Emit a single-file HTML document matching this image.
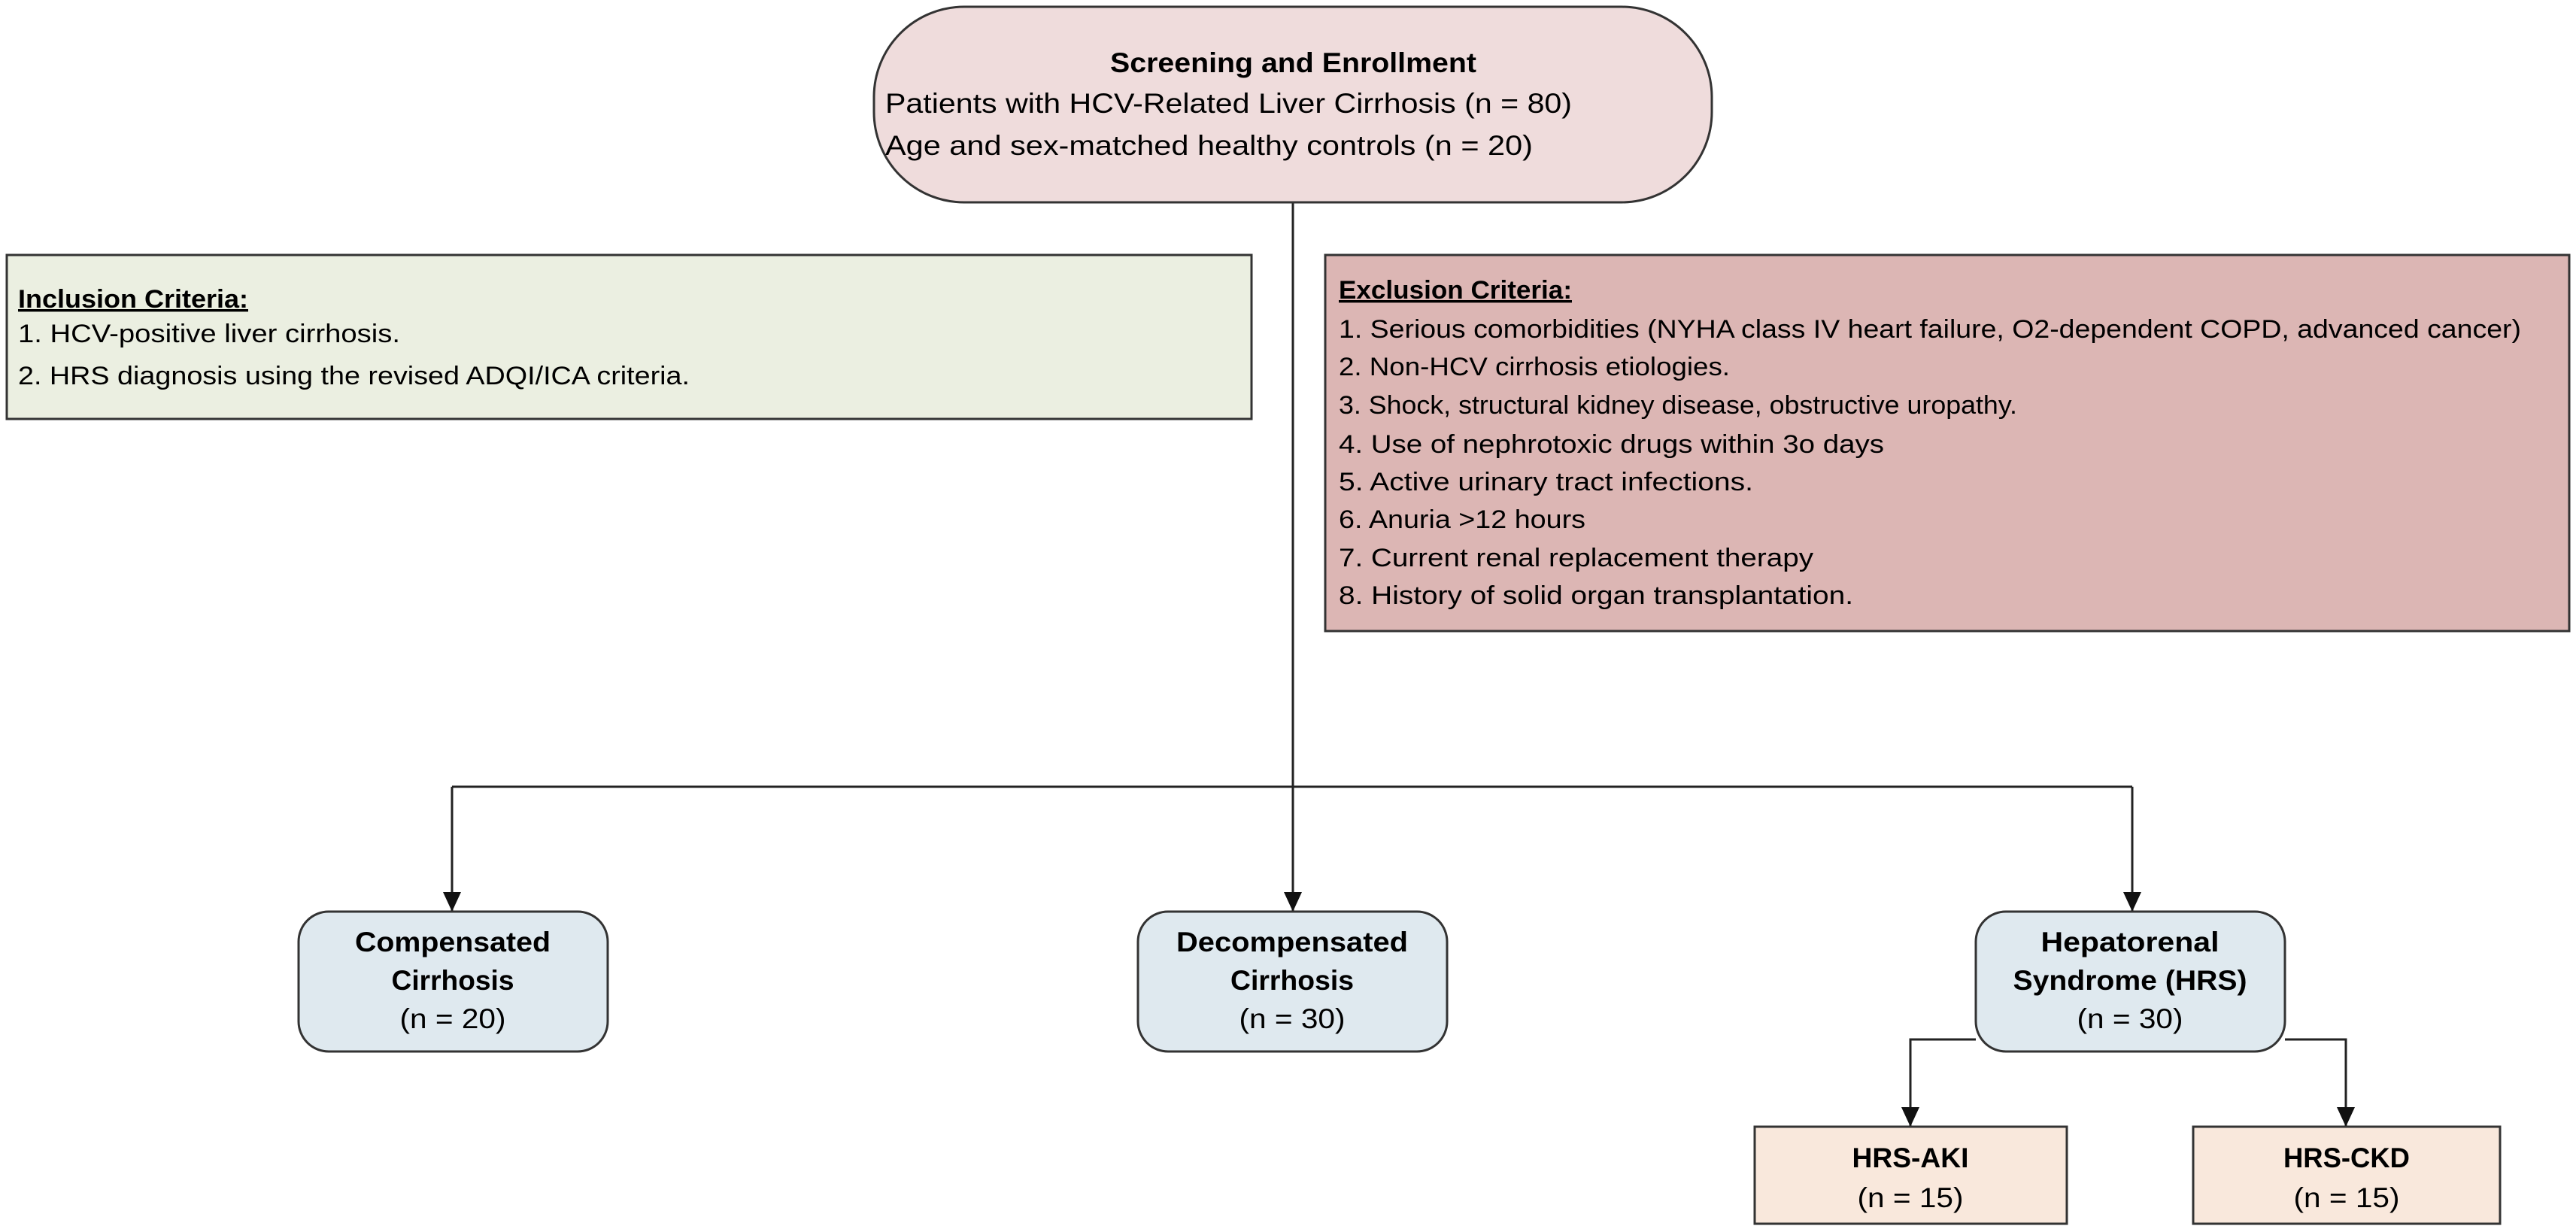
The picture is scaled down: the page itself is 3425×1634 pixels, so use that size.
<!DOCTYPE html>
<html><head><meta charset="utf-8"><style>
html,body{margin:0;padding:0;background:#fff;}
svg{display:block;font-family:"Liberation Sans",Arial,sans-serif;}
</style></head><body>
<svg width="3425" height="1634" viewBox="0 0 3425 1634" xmlns="http://www.w3.org/2000/svg">
<g stroke="#222" stroke-width="3" fill="none">
<path d="M1719,269 V1212"/>
<path d="M601,1046 H2835"/>
<path d="M601,1046 V1212"/>
<path d="M2835,1046 V1212"/>
<path d="M2627,1382 H2540 V1498"/>
<path d="M3038,1382 H3119 V1498"/>
</g>
<g fill="#111">
<path d="M589,1186 L613,1186 L601,1212 z"/>
<path d="M1707,1186 L1731,1186 L1719,1212 z"/>
<path d="M2823,1186 L2847,1186 L2835,1212 z"/>
<path d="M2528,1472 L2552,1472 L2540,1498 z"/>
<path d="M3107,1472 L3131,1472 L3119,1498 z"/>
</g>
<rect x="1162" y="9" width="1114" height="260" rx="120" fill="#efdcdc" stroke="#333" stroke-width="3"/>
<text x="1476" y="96" font-size="37" font-weight="bold" textLength="487" lengthAdjust="spacingAndGlyphs">Screening and Enrollment</text>
<text x="1177" y="150" font-size="37" textLength="913" lengthAdjust="spacingAndGlyphs">Patients with HCV-Related Liver Cirrhosis (n = 80)</text>
<text x="1177" y="206" font-size="37" textLength="861" lengthAdjust="spacingAndGlyphs">Age and sex-matched healthy controls (n = 20)</text>

<rect x="9" y="339" width="1655" height="218" fill="#ebefe1" stroke="#333" stroke-width="3"/>
<text x="24" y="409" font-size="34" font-weight="bold" text-decoration="underline" textLength="306" lengthAdjust="spacingAndGlyphs">Inclusion Criteria:</text>
<text x="24" y="455" font-size="34" textLength="508" lengthAdjust="spacingAndGlyphs">1. HCV-positive liver cirrhosis.</text>
<text x="24" y="511" font-size="34" textLength="893" lengthAdjust="spacingAndGlyphs">2. HRS diagnosis using the revised ADQI/ICA criteria.</text>

<rect x="1762" y="339" width="1654" height="500" fill="#dcb6b4" stroke="#333" stroke-width="3"/>
<g font-size="34">
<text x="1780" y="397" font-weight="bold" text-decoration="underline" textLength="310" lengthAdjust="spacingAndGlyphs">Exclusion Criteria:</text>
<text x="1780" y="449" textLength="1572" lengthAdjust="spacingAndGlyphs">1. Serious comorbidities (NYHA class IV heart failure, O2-dependent COPD, advanced cancer)</text>
<text x="1780" y="499" textLength="520" lengthAdjust="spacingAndGlyphs">2. Non-HCV cirrhosis etiologies.</text>
<text x="1780" y="550" textLength="902" lengthAdjust="spacingAndGlyphs">3. Shock, structural kidney disease, obstructive uropathy.</text>
<text x="1780" y="602" textLength="725" lengthAdjust="spacingAndGlyphs">4. Use of nephrotoxic drugs within 3o days</text>
<text x="1780" y="652" textLength="551" lengthAdjust="spacingAndGlyphs">5. Active urinary tract infections.</text>
<text x="1780" y="702" textLength="328" lengthAdjust="spacingAndGlyphs">6. Anuria &gt;12 hours</text>
<text x="1780" y="753" textLength="631" lengthAdjust="spacingAndGlyphs">7. Current renal replacement therapy</text>
<text x="1780" y="803" textLength="684" lengthAdjust="spacingAndGlyphs">8. History of solid organ transplantation.</text>
</g>

<g stroke="#333" stroke-width="3" fill="#dfe9ef">
<rect x="397" y="1212" width="411" height="186" rx="40"/>
<rect x="1513" y="1212" width="411" height="186" rx="40"/>
<rect x="2627" y="1212" width="411" height="186" rx="40"/>
</g>
<g font-size="37" text-anchor="middle">
<text x="602" y="1265" font-weight="bold" textLength="260" lengthAdjust="spacingAndGlyphs">Compensated</text>
<text x="602" y="1316" font-weight="bold" textLength="163" lengthAdjust="spacingAndGlyphs">Cirrhosis</text>
<text x="602" y="1367" textLength="141" lengthAdjust="spacingAndGlyphs">(n = 20)</text>
<text x="1718" y="1265" font-weight="bold" textLength="308" lengthAdjust="spacingAndGlyphs">Decompensated</text>
<text x="1718" y="1316" font-weight="bold" textLength="164" lengthAdjust="spacingAndGlyphs">Cirrhosis</text>
<text x="1718" y="1367" textLength="141" lengthAdjust="spacingAndGlyphs">(n = 30)</text>
<text x="2832" y="1265" font-weight="bold" textLength="237" lengthAdjust="spacingAndGlyphs">Hepatorenal</text>
<text x="2832" y="1316" font-weight="bold" textLength="311" lengthAdjust="spacingAndGlyphs">Syndrome (HRS)</text>
<text x="2832" y="1367" textLength="141" lengthAdjust="spacingAndGlyphs">(n = 30)</text>
</g>
<g stroke="#333" stroke-width="3" fill="#f9e8dc">
<rect x="2333" y="1498" width="415" height="129"/>
<rect x="2916" y="1498" width="408" height="129"/>
</g>
<g font-size="37" text-anchor="middle">
<text x="2540" y="1552" font-weight="bold" textLength="155" lengthAdjust="spacingAndGlyphs">HRS-AKI</text>
<text x="2540" y="1605" textLength="141" lengthAdjust="spacingAndGlyphs">(n = 15)</text>
<text x="3120" y="1552" font-weight="bold" textLength="168" lengthAdjust="spacingAndGlyphs">HRS-CKD</text>
<text x="3120" y="1605" textLength="141" lengthAdjust="spacingAndGlyphs">(n = 15)</text>
</g>
</svg>
</body></html>
